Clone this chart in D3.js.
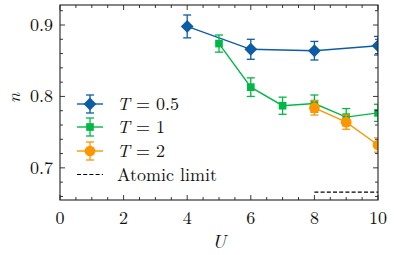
<!DOCTYPE html>
<html>
<head>
<meta charset="utf-8">
<script src="https://cdn.jsdelivr.net/npm/d3@7"></script>
<style>
  body { margin: 0; background: #fff; }
</style>
</head>
<body>
<script>
// data
var uLow = [4, 6, 8, 10];
var nLow = [0.898, 0.866, 0.864, 0.871];
var errLow = [0.016, 0.014, 0.013, 0.013];

var uMid = [5, 6, 7, 8, 9, 10];
var nMid = [0.874, 0.813, 0.787, 0.790, 0.771, 0.777];
var errMid = [0.012, 0.013, 0.012, 0.012, 0.012, 0.012];

var uHigh = [8, 9, 10];
var nHigh = [0.784, 0.764, 0.732];
var errHigh = [0.010, 0.010, 0.010];

var atomicU = [8, 10];
var atomicN = [0.666, 0.666];

var xTicks = [0, 2, 4, 6, 8, 10];
var yTicks = [0.7, 0.8, 0.9];

var seriesNames = ["T = 0.5", "T = 1", "T = 2"];
var colors = ["#0C5DA5", "#00B945", "#FF9500"];

var serif = "'Latin Modern Roman', 'Liberation Serif', serif";

// plot area
var w = 394, h = 255;
var margin = {top: 5, right: 16, bottom: 55, left: 60};

var svg = d3.select("body").append("svg")
    .attr("width", w).attr("height", h);

function txt(sel) {
  return sel.append("text").style("font-family", serif).attr("fill", "#111");
}

var x = d3.scaleLinear().domain([0, 10]).range([margin.left, w - margin.right]);
var y = d3.scaleLinear().domain([0.655, 0.928]).range([h - margin.bottom, margin.top]);

var g = svg.append("g");

// clip so markers at the edges are cut like matplotlib
svg.append("clipPath").attr("id", "clip")
  .append("rect")
  .attr("x", x(0)).attr("y", y(0.928))
  .attr("width", x(10) - x(0)).attr("height", y(0.655) - y(0.928));

// ticks, inward on all sides
var xMinor = d3.range(0, 10.01, 0.5);
var yMinor = d3.range(0.66, 0.9281, 0.02);

function drawAxes() {
  var ax = svg.append("g").attr("stroke", "#222").attr("stroke-width", 0.9);
  xMinor.forEach(function(v) {
    var len = (Math.abs(v / 2 - Math.round(v / 2)) < 1e-6) ? 5 : 3;
    ax.append("line").attr("x1", x(v)).attr("x2", x(v))
      .attr("y1", y.range()[0]).attr("y2", y.range()[0] - len);
    ax.append("line").attr("x1", x(v)).attr("x2", x(v))
      .attr("y1", y.range()[1]).attr("y2", y.range()[1] + len);
  });
  yMinor.forEach(function(v) {
    var major = Math.abs(v * 10 - Math.round(v * 10)) < 1e-6;
    var len = major ? 5 : 3;
    ax.append("line").attr("y1", y(v)).attr("y2", y(v))
      .attr("x1", x.range()[0]).attr("x2", x.range()[0] + len);
    ax.append("line").attr("y1", y(v)).attr("y2", y(v))
      .attr("x1", x.range()[1]).attr("x2", x.range()[1] - len);
  });
  svg.append("rect")
    .attr("x", x(0)).attr("y", y(0.928))
    .attr("width", x(10) - x(0)).attr("height", y(0.655) - y(0.928))
    .attr("fill", "none").attr("stroke", "#222").attr("stroke-width", 1.1);

  xTicks.forEach(function(d) {
    txt(svg).attr("x", x(d)).attr("y", 224)
      .attr("text-anchor", "middle").attr("font-size", 18).text(d);
  });
  yTicks.forEach(function(d) {
    txt(svg).attr("x", 53).attr("y", y(d) + 6)
      .attr("text-anchor", "end").attr("font-size", 18)
      .text(d3.format(".1f")(d));
  });

  txt(svg).attr("x", 219).attr("y", 248)
    .attr("text-anchor", "middle").attr("font-size", 19)
    .attr("font-style", "italic").text("U");
  txt(svg)
    .attr("transform", "translate(20," + 98 + ") rotate(-90)")
    .attr("text-anchor", "middle").attr("font-size", 18)
    .attr("font-style", "italic").text("n");
}

var line = d3.line()
  .x(function(d) { return x(d[0]); })
  .y(function(d) { return y(d[1]); });

var symbols = [
  d3.symbol().type(d3.symbolDiamond2).size(105),
  d3.symbol().type(d3.symbolSquare2).size(75),
  d3.symbol().type(d3.symbolCircle).size(90)
];

function drawSeries(us, ns, errs, i) {
  var pts = us.map(function(u, k) { return [u, ns[k], errs[k]]; });
  var sg = g.append("g").attr("clip-path", "url(#clip)");
  sg.append("path").datum(pts)
    .attr("d", line).attr("fill", "none")
    .attr("stroke", colors[i]).attr("stroke-width", 1.4);
  var eb = sg.append("g").attr("stroke", colors[i]).attr("stroke-width", 1.3);
  pts.forEach(function(p) {
    eb.append("line").attr("x1", x(p[0])).attr("x2", x(p[0]))
      .attr("y1", y(p[1] - p[2])).attr("y2", y(p[1] + p[2]));
    [p[1] - p[2], p[1] + p[2]].forEach(function(v) {
      eb.append("line").attr("x1", x(p[0]) - 4).attr("x2", x(p[0]) + 4)
        .attr("y1", y(v)).attr("y2", y(v));
    });
  });
  sg.selectAll(".m").data(pts).enter().append("path")
    .attr("transform", function(p) { return "translate(" + x(p[0]) + "," + y(p[1]) + ")"; })
    .attr("d", symbols[i]())
    .attr("fill", colors[i]);
}

drawSeries(uLow, nLow, errLow, 0);
drawSeries(uMid, nMid, errMid, 1);
drawSeries(uHigh, nHigh, errHigh, 2);

// atomic limit
g.append("path")
  .datum(atomicU.map(function(u, k) { return [u, atomicN[k]]; }))
  .attr("d", line).attr("fill", "none")
  .attr("stroke", "#000").attr("stroke-width", 1.2)
  .attr("stroke-dasharray", "4,2.2");

drawAxes();

// legend
var legY = [104, 127, 151, 174.5];
var leg = svg.append("g");
seriesNames.forEach(function(name, i) {
  var yy = legY[i];
  leg.append("line").attr("x1", 77).attr("x2", 103).attr("y1", yy).attr("y2", yy)
    .attr("stroke", colors[i]).attr("stroke-width", 1.4);
  leg.append("line").attr("x1", 90).attr("x2", 90).attr("y1", yy - 9).attr("y2", yy + 9)
    .attr("stroke", colors[i]).attr("stroke-width", 1.3);
  leg.append("line").attr("x1", 86).attr("x2", 94).attr("y1", yy - 9).attr("y2", yy - 9)
    .attr("stroke", colors[i]).attr("stroke-width", 1.3);
  leg.append("line").attr("x1", 86).attr("x2", 94).attr("y1", yy + 9).attr("y2", yy + 9)
    .attr("stroke", colors[i]).attr("stroke-width", 1.3);
  leg.append("path").attr("transform", "translate(90," + yy + ")")
    .attr("d", symbols[i]()).attr("fill", colors[i]);
  var t = txt(leg).attr("x", 117).attr("y", yy + 6).attr("font-size", 18);
  var parts = name.split(" = ");
  t.append("tspan").attr("font-style", "italic").text(parts[0]);
  t.append("tspan").text(" = " + parts[1]);
});
leg.append("line").attr("x1", 77).attr("x2", 103)
  .attr("y1", legY[3]).attr("y2", legY[3])
  .attr("stroke", "#000").attr("stroke-width", 1.2).attr("stroke-dasharray", "4,2.2");
txt(leg).attr("x", 117).attr("y", legY[3] + 6).attr("font-size", 18)
  .text("Atomic limit");
</script>
</body>
</html>
